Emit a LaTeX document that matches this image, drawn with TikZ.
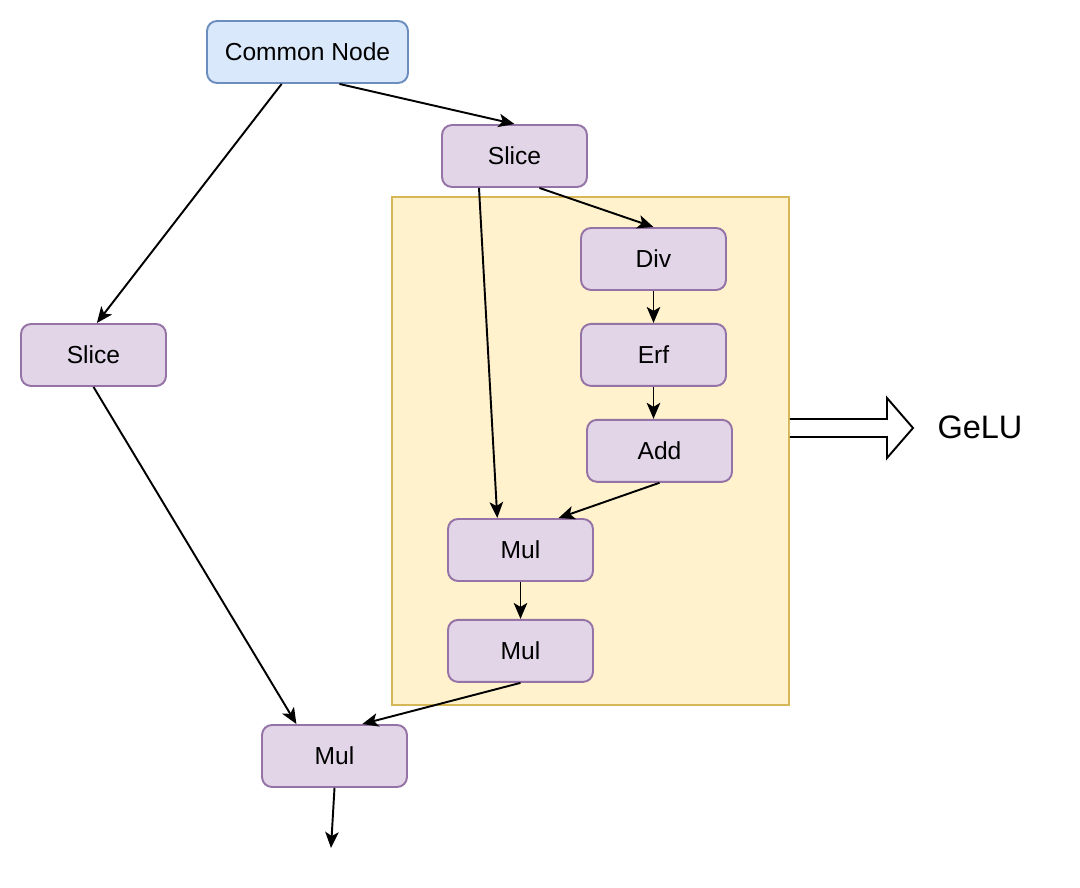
\documentclass[tikz,border=0pt]{standalone}
\usepackage{fontspec}
\setmainfont{Liberation Sans}
\usetikzlibrary{positioning}
\usetikzlibrary{arrows.meta}

\definecolor{opfill}{HTML}{E1D5E7}
\definecolor{opline}{HTML}{9673A6}
\definecolor{cnfill}{HTML}{DAE8FC}
\definecolor{cnline}{HTML}{6C8EBF}
\definecolor{grpfill}{HTML}{FFF2CC}
\definecolor{grpline}{HTML}{D6B656}

\begin{document}
\begin{tikzpicture}[x=0.02cm, y=-0.02cm, node distance={0.7cm},
    op/.style = {draw=opline, fill=opfill, line width=1.1pt, rounded corners=0.2cm, minimum width=2.9cm, minimum height=1.24cm, font=\fontsize{14}{16}\selectfont},
    common/.style = {op, draw=cnline, fill=cnfill, minimum width=4.02cm},
    group/.style = {draw=grpline, fill=grpfill, line width=1.1pt, minimum width=7.94cm, minimum height=10.16cm},
    flow/.style = {-{Stealth[length=0.32cm, width=0.27cm, inset=0.08cm]}, line width=1.1pt}]
    \useasboundingbox (0,0) rectangle (1080,888);
    \node[group] (gelu) at (590.5,451) {};
    \node[common] (cn) at (307.5,52) {Common Node};
    \node[op] (sliceT) at (514.5,156) {Slice};
    \node[op] (sliceL) at (93.5,355) {Slice};
    \node[op] (div) at (653.5,259) {Div};
    \node[op] (erf) [below=0.64cm of div] {Erf};
    \node[op] (add) [below=0.64cm of erf, xshift=0.12cm] {Add};
    \node[op] (mul1) at (520.5,550) {Mul};
    \node[op] (mul2) [below=0.74cm of mul1] {Mul};
    \node[op] (mulB) at (334.5,756) {Mul};
    \coordinate (out) at (331,848);
    \node[font=\fontsize{18.5}{22}\selectfont] (gelutxt) at (980,427) {GeLU};
    % edges
    \draw[flow] (cn.231) -- (sliceL.84);
    \draw[flow] (cn.315) -- (sliceT.north);
    \draw[flow] (sliceT.222) -- (mul1.126);
    \draw[flow] (sliceT.308) -- (div.north);
    \draw[flow] (div.south) -- (erf.north);
    \draw[flow] (erf.south) -- (erf.south |- add.north);
    \draw[flow] (add.south) -- (mul1.40);
    \draw[flow] (mul1.south) -- (mul2.north);
    \draw[flow] (sliceL.south) -- (mulB.140);
    \draw[flow] (mul2.south) -- (mulB.49);
    \draw[flow] (mulB.south) -- (out);
    % block arrow to the label
    \draw[fill=white, line width=1.1pt] (gelu.east |- 0,419) -- (887,419) -- (887,398) -- (913,428) -- (887,458) -- (887,437) -- (gelu.east |- 0,437);
\end{tikzpicture}
\end{document}
